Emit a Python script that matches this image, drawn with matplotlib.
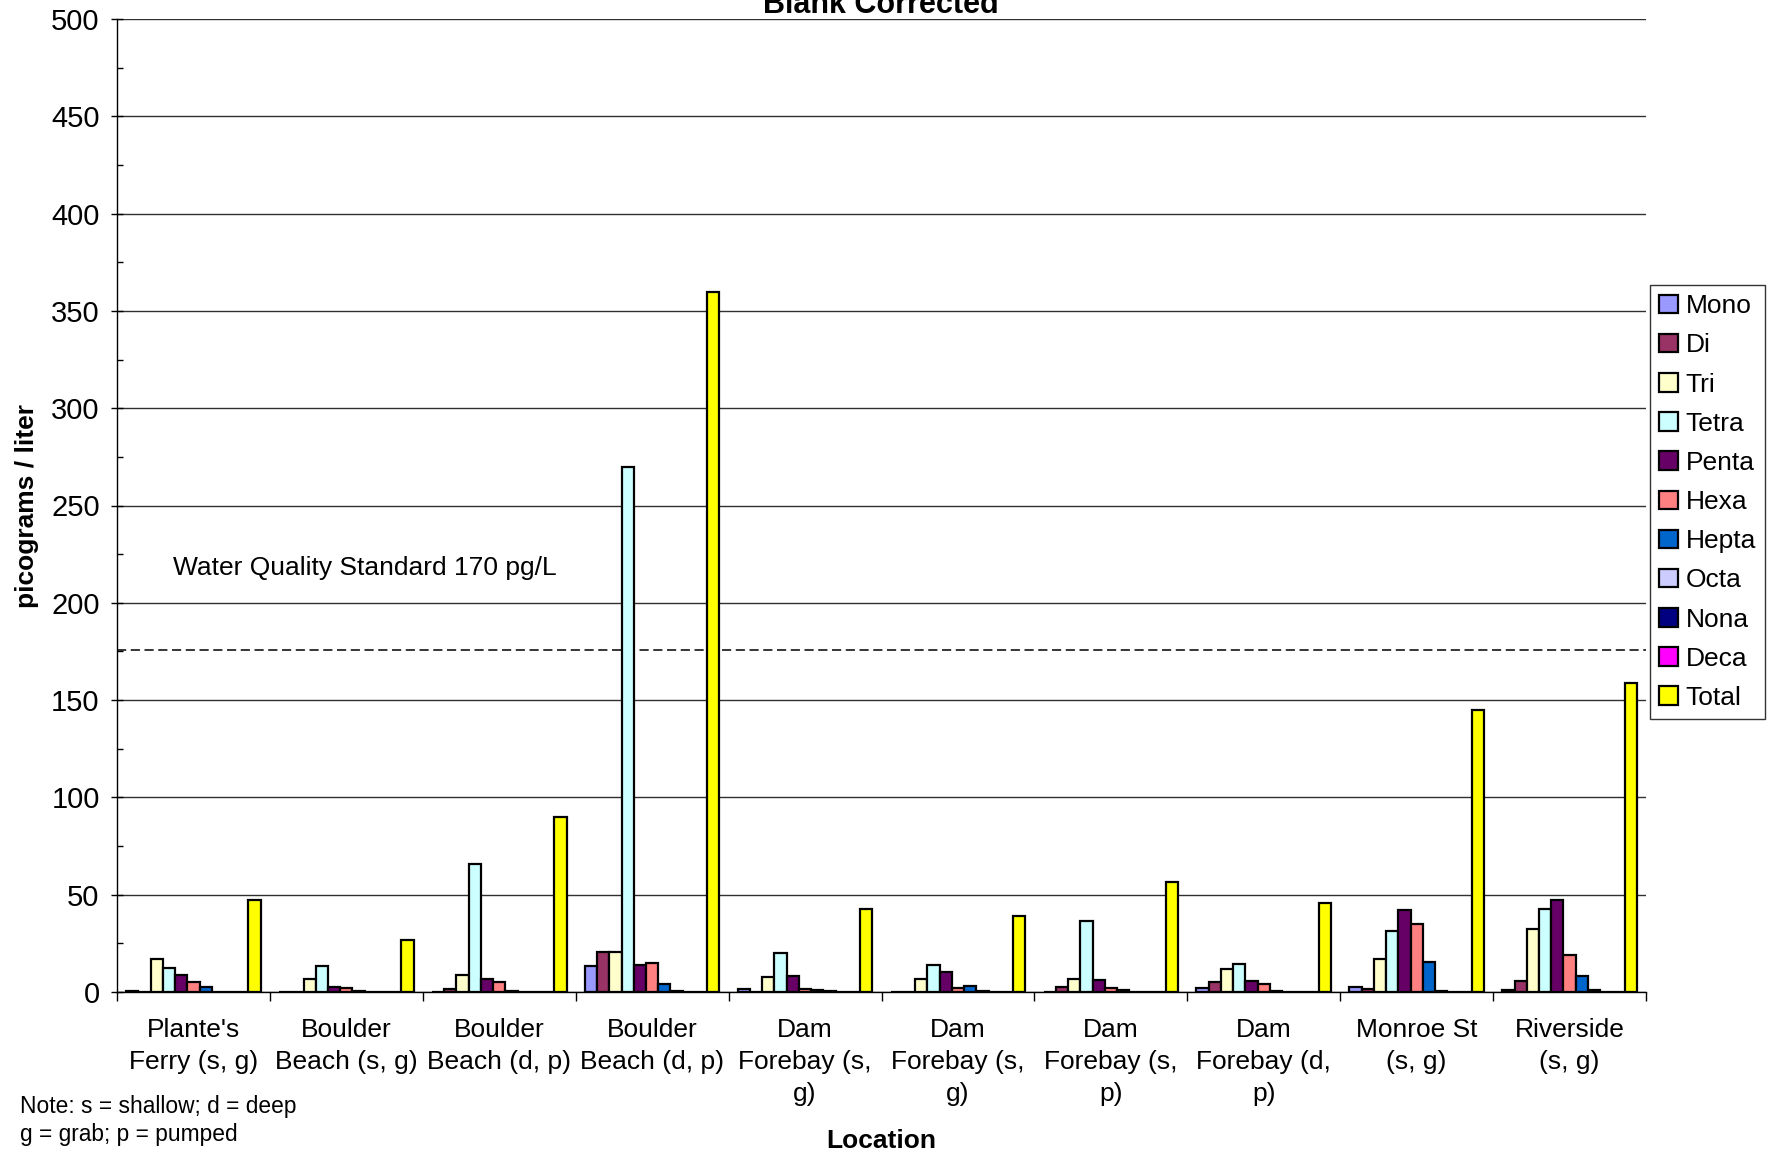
import matplotlib
matplotlib.use("Agg")
import matplotlib.pyplot as plt
import numpy as np
from matplotlib.ticker import MultipleLocator, FixedLocator, NullFormatter, FixedFormatter

plt.rcParams['font.family'] = ['Liberation Sans', 'DejaVu Sans']

# Sampling locations
locations = [
    "Plante's\nFerry (s, g)",
    "Boulder\nBeach (s, g)",
    "Boulder\nBeach (d, p)",
    "Boulder\nBeach (d, p)",
    "Dam\nForebay (s,\ng)",
    "Dam\nForebay (s,\ng)",
    "Dam\nForebay (s,\np)",
    "Dam\nForebay (d,\np)",
    "Monroe St\n(s, g)",
    "Riverside\n(s, g)",
]

# Homolog concentrations, picograms / liter
mono  = [0.5, 0.0, 0.0, 13.3, 1.7, 0.0, 0.0, 2.1, 2.4, 0.9]
di    = [0.0, 0.0, 1.4, 20.8, 0.0, 0.0, 2.6, 5.2, 1.4, 5.5]
tri   = [17.0, 6.8, 8.7, 20.6, 7.8, 6.9, 6.9, 11.6, 17.0, 32.2]
tetra = [12.1, 13.2, 66.0, 269.7, 20.2, 13.8, 36.5, 14.2, 31.1, 42.9]
penta = [8.8, 2.8, 6.9, 13.7, 8.3, 10.4, 6.1, 5.9, 41.9, 47.1]
hexa  = [5.2, 2.2, 5.2, 14.7, 1.7, 2.1, 2.1, 4.3, 34.9, 19.0]
hepta = [2.4, 0.3, 0.5, 4.3, 1.0, 3.1, 0.9, 0.7, 15.2, 8.3]
octa  = [0.0, 0.0, 0.0, 0.5, 0.4, 0.7, 0.0, 0.0, 0.5, 1.2]
nona  = [0.0, 0.0, 0.0, 0.0, 0.0, 0.0, 0.0, 0.0, 0.0, 0.0]
deca  = [0.0, 0.0, 0.0, 0.0, 0.0, 0.0, 0.0, 0.0, 0.0, 0.0]
total = [47.2, 26.8, 89.9, 359.6, 42.4, 39.1, 56.7, 45.8, 145.0, 158.7]

series_names = ["Mono", "Di", "Tri", "Tetra", "Penta", "Hexa", "Hepta",
                "Octa", "Nona", "Deca", "Total"]
series_values = [mono, di, tri, tetra, penta, hexa, hepta, octa, nona, deca, total]
series_colors = ["#9999FF", "#993366", "#FFFFCC", "#CCFFFF", "#660066", "#FF8080",
                 "#0066CC", "#CCCCFF", "#000080", "#FF00FF", "#FFFF00"]

standard_level = 176
standard_text = "Water Quality Standard 170 pg/L"

W, H = 1769, 1156
fig = plt.figure(figsize=(W / 100, H / 100), dpi=100)
ax = fig.add_axes([117 / W, 1 - 992 / H, (1646 - 117) / W, (992 - 19) / H])

n_series = len(series_names)
bar_w = 0.08
centers = np.arange(len(locations)) + 0.5
for i, (name, vals, col) in enumerate(zip(series_names, series_values, series_colors)):
    x = centers + (i - (n_series - 1) / 2) * bar_w
    ax.bar(x, vals, width=bar_w, color=col, edgecolor="black", linewidth=1.6,
           label=name, zorder=3)

ax.set_xlim(0, len(locations))
ax.set_ylim(0, 500)

# y axis: major every 50 with gridlines, minor every 25
ax.yaxis.set_major_locator(MultipleLocator(50))
ax.yaxis.set_minor_locator(MultipleLocator(25))
ax.tick_params(axis="y", which="major", direction="inout", length=9, width=1,
               labelsize=21, pad=8)
ax.tick_params(axis="y", which="minor", direction="in", length=4, width=1)
ax.grid(axis="y", which="major", color="#303030", linewidth=1.0, zorder=1)

# x axis: ticks on category boundaries, labels centred under groups
ax.xaxis.set_major_locator(FixedLocator(np.arange(len(locations) + 1)))
ax.xaxis.set_major_formatter(NullFormatter())
ax.xaxis.set_minor_locator(FixedLocator(centers))
ax.xaxis.set_minor_formatter(FixedFormatter(locations))
ax.tick_params(axis="x", which="major", direction="out", length=6.5, width=1)
ax.tick_params(axis="x", which="minor", length=0, labelsize=19, pad=19)
for lbl in ax.xaxis.get_minorticklabels():
    lbl.set_linespacing(1.42)
    lbl.set_verticalalignment("top")

for side in ("top", "right"):
    ax.spines[side].set_visible(False)
for side in ("left", "bottom"):
    ax.spines[side].set_linewidth(1.0)
    ax.spines[side].set_zorder(4)

# Water quality standard
ax.axhline(standard_level, color="black", linewidth=1.1, linestyle=(0, (6, 3)), zorder=2)
ax.text(0.364, 218, standard_text, fontsize=19, va="center", ha="left")

ax.set_ylabel("picograms / liter", fontsize=19, fontweight="bold")
ax.yaxis.set_label_coords(-0.051, 0.5)

fig.text(881 / W, 1 - 13 / H, "Blank Corrected", fontsize=22, fontweight="bold",
         ha="center", va="baseline")
fig.text(881 / W, 1 - 1141 / H, "Location", fontsize=19, fontweight="bold",
         ha="center", va="center")
fig.text(20 / W, 1 - 1106 / H, "Note: s = shallow; d = deep", fontsize=16.4,
         ha="left", va="center")
fig.text(20 / W, 1 - 1135 / H, "g = grab; p = pumped", fontsize=16.4,
         ha="left", va="center")

leg = ax.legend(loc="upper left", bbox_to_anchor=(1650 / W, 1 - 285 / H),
                bbox_transform=fig.transFigure, fontsize=19, frameon=True,
                fancybox=False, edgecolor="black", handlelength=0.7,
                handleheight=0.7, handletextpad=0.3, labelspacing=0.575,
                borderpad=0.35, borderaxespad=0)
leg.get_frame().set_linewidth(1.0)
for patch in leg.get_patches():
    patch.set_linewidth(1.6)

fig.savefig("out.png", dpi=100)
